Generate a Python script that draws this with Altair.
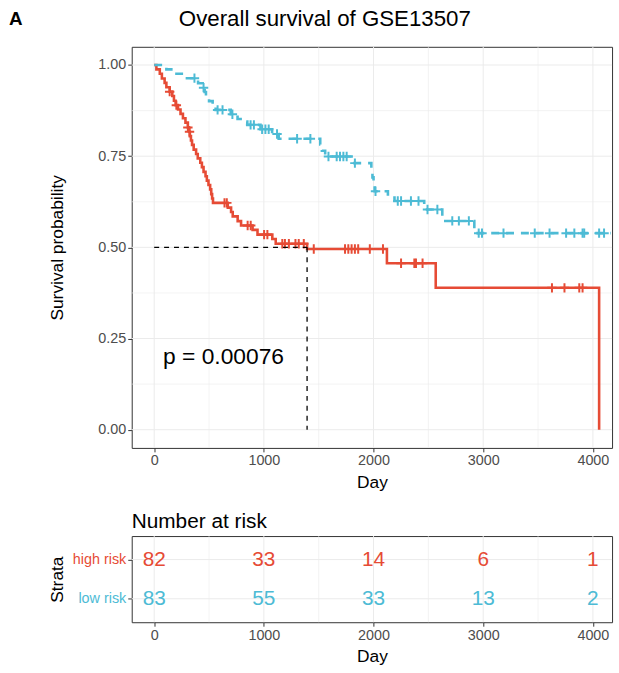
import altair as alt
import pandas as pd
import numpy as np

RED = "#E64B35"
BLUE = "#4DBBD5"

# ---- Kaplan-Meier step data ----
high_time = [0, 20, 51, 70, 95, 111, 141, 165, 180, 195, 217, 240, 262, 285, 307, 318,
             325, 335, 345, 360, 382, 397, 420, 435, 450, 468, 480, 495, 510, 520, 528,
             536, 671, 701, 716, 761, 792, 897, 942, 1077, 1108, 1394, 2122, 2567, 4057]
high_surv = [1.0, 0.988, 0.976, 0.963, 0.951, 0.939, 0.927, 0.915, 0.902, 0.890, 0.878,
             0.866, 0.854, 0.842, 0.829, 0.817, 0.805, 0.793, 0.781, 0.768, 0.756, 0.744,
             0.732, 0.720, 0.707, 0.695, 0.683, 0.671, 0.659, 0.646, 0.634, 0.622, 0.609,
             0.597, 0.585, 0.572, 0.560, 0.548, 0.535, 0.523, 0.510, 0.4955, 0.4565,
             0.389, 0.0]
high_censor = [141, 202, 307, 322, 641, 662, 852, 880, 1002, 1032, 1168, 1192, 1228, 1288,
               1318, 1364, 1455, 1740, 1770, 1800, 1830, 1860, 1966, 2086, 2251, 2372,
               2387, 2447, 3627, 3741, 3876, 3906]

low_time = [0, 111, 187, 277, 400, 442, 460, 472, 500, 533, 560, 698, 760, 788, 849, 969,
            1075, 1135, 1514, 1529, 1559, 1800, 1980, 1990, 2000, 2010, 2131, 2191, 2462,
            2627, 2919, 4162]
low_surv = [1.0, 0.988, 0.976, 0.964, 0.950, 0.938, 0.926, 0.913, 0.901, 0.889, 0.877,
            0.865, 0.852, 0.845, 0.836, 0.824, 0.811, 0.798, 0.782, 0.765, 0.749, 0.731,
            0.712, 0.692, 0.673, 0.654, 0.645, 0.627, 0.604, 0.5725, 0.539, 0.539]
low_censor = [367, 450, 578, 623, 713, 879, 909, 984, 1014, 1044, 1120, 1303, 1424, 1589,
              1664, 1694, 1725, 1755, 1830, 2018, 2221, 2251, 2341, 2410, 2492, 2582, 2718,
              2778, 2869, 2959, 2989, 3185, 3470, 3605, 3756, 3831, 3906, 3921, 4057, 4102]

median_time = 1394
p_label = "p = 0.00076"
main_title = "Overall survival of GSE13507"
panel_tag = "A"

# ---- risk table ----
risk_times = [0, 1000, 2000, 3000, 4000]
risk_high = [82, 33, 14, 6, 1]
risk_low = [83, 55, 33, 13, 2]
strata = ["high risk", "low risk"]

x_major = [0, 1000, 2000, 3000, 4000]
x_minor = [500, 1500, 2500, 3500]
y_major = [0, 0.25, 0.5, 0.75, 1.0]
y_minor = [0.125, 0.375, 0.625, 0.875]


def step_value(times, surv, t):
    idx = np.searchsorted(np.array(times), np.array(t), side="right") - 1
    return list(np.array(surv)[idx])


high_df = pd.DataFrame({"day": high_time, "surv": high_surv})
low_df = pd.DataFrame({"day": low_time, "surv": low_surv})
high_c = pd.DataFrame({"day": high_censor, "surv": step_value(high_time, high_surv, high_censor)})
low_c = pd.DataFrame({"day": low_censor, "surv": step_value(low_time, low_surv, low_censor)})

xs = alt.Scale(domain=[-205, 4175], nice=False, zero=False)
ys = alt.Scale(domain=[-0.05, 1.05], nice=False, zero=False)
xaxis = alt.Axis(values=x_major, title="Day", grid=False, format="d", titlePadding=6)
yaxis = alt.Axis(values=y_major, title="Survival probability", grid=False, format=".2f",
                 titleX=-75, titleBaseline="middle")


def X(f):
    return alt.X(f, type="quantitative", scale=xs, axis=xaxis)


def Y(f):
    return alt.Y(f, type="quantitative", scale=ys, axis=yaxis)


gx = pd.DataFrame({"v": x_major + x_minor, "w": [1.0] * len(x_major) + [0.6] * len(x_minor)})
gy = pd.DataFrame({"v": y_major + y_minor, "w": [1.0] * len(y_major) + [0.6] * len(y_minor)})

grid_x = alt.Chart(gx).mark_rule(color="#EBEBEB").encode(
    x=X("v"), strokeWidth=alt.StrokeWidth("w:Q", scale=None))
grid_y = alt.Chart(gy).mark_rule(color="#EBEBEB").encode(
    y=Y("v"), strokeWidth=alt.StrokeWidth("w:Q", scale=None))

line_high = alt.Chart(high_df).mark_line(interpolate="step-after", color=RED, strokeWidth=2.6).encode(
    x=X("day"), y=Y("surv"))
line_low = alt.Chart(low_df).mark_line(interpolate="step-after", color=BLUE, strokeWidth=2.6,
                                       strokeDash=[8, 7]).encode(x=X("day"), y=Y("surv"))

plus = "M-1,0L1,0M0,-1L0,1"
cens_high = alt.Chart(high_c).mark_point(shape=plus, size=90, color=RED, strokeWidth=2,
                                         filled=False, opacity=1).encode(x=X("day"), y=Y("surv"))
cens_low = alt.Chart(low_c).mark_point(shape=plus, size=90, color=BLUE, strokeWidth=2,
                                       filled=False, opacity=1).encode(x=X("day"), y=Y("surv"))

med = pd.DataFrame({"x": [0, median_time], "x2": [median_time, median_time],
                    "y": [0.5, 0.5], "y2": [0.5, 0.0]})
med_lines = alt.Chart(med).mark_rule(color="black", strokeDash=[5, 5], strokeWidth=1.3).encode(
    x=X("x"), x2="x2", y=Y("y"), y2="y2")

ptext = alt.Chart(pd.DataFrame({"x": [81], "y": [0.198], "t": [p_label]})).mark_text(
    align="left", baseline="middle", fontSize=23, color="black").encode(
    x=X("x"), y=Y("y"), text="t:N")

label_a = alt.Chart(pd.DataFrame({"t": [panel_tag]})).mark_text(
    align="left", baseline="middle", fontSize=19, fontWeight="bold", color="black").encode(
    x=alt.value(-124), y=alt.value(-28), text="t:N")

title_txt = alt.Chart(pd.DataFrame({"t": [main_title]})).mark_text(
    align="center", baseline="middle", fontSize=22.5, color="black").encode(
    x=alt.value(195), y=alt.value(-28), text="t:N")

top = alt.layer(grid_x, grid_y, line_high, line_low, cens_high, cens_low, med_lines, ptext,
                label_a, title_txt).properties(width=485, height=405)

# ---- risk table chart ----
rows = []
for t, h, l in zip(risk_times, risk_high, risk_low):
    rows.append({"day": t, "row": 2, "n": str(h), "strata": strata[0]})
    rows.append({"day": t, "row": 1, "n": str(l), "strata": strata[1]})
risk_df = pd.DataFrame(rows)

rys = alt.Scale(domain=[0.4, 2.6], nice=False, zero=False)
ryaxis = alt.Axis(values=[1, 2], title="Strata", grid=False,
                  labelExpr="datum.value == 2 ? 'high risk' : 'low risk'",
                  labelColor={"condition": {"test": "datum.value == 2", "value": RED}, "value": BLUE},
                  titleX=-75, titleBaseline="middle")

rgx = alt.Chart(gx).mark_rule(color="#EBEBEB").encode(
    x=X("v"), strokeWidth=alt.StrokeWidth("w:Q", scale=None))
rgy = alt.Chart(pd.DataFrame({"v": [1, 2]})).mark_rule(color="#EBEBEB", strokeWidth=1).encode(
    y=alt.Y("v:Q", scale=rys, axis=ryaxis))
rtext = alt.Chart(risk_df).mark_text(fontSize=21, baseline="middle", align="center").encode(
    x=X("day"), y=alt.Y("row:Q", scale=rys, axis=ryaxis), text="n:N",
    color=alt.Color("strata:N", scale=alt.Scale(domain=strata, range=[RED, BLUE]), legend=None))

bottom = alt.layer(rgx, rgy, rtext).properties(
    width=485, height=87,
    title=alt.TitleParams("Number at risk", fontSize=21, fontWeight="normal", anchor="start",
                          frame="group", offset=4))

chart = alt.vconcat(top, bottom, spacing=19).properties(
    padding={"left": 8, "top": 4, "right": 2, "bottom": 3}
).configure(font="Liberation Sans").configure_view(
    stroke="#333333", strokeWidth=1
).configure_axis(
    domain=False, tickColor="#333333", tickSize=4, labelColor="#4D4D4D", labelFontSize=14.5,
    titleFontSize=17.5, titleFontWeight="normal", titleColor="black", labelPadding=2
).configure_title(color="black")

chart.save("out.html", embed_options={"renderer": "svg", "actions": False})
